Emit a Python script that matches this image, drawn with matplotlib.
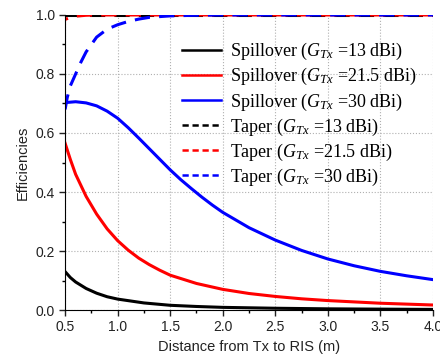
import numpy as np
import matplotlib
matplotlib.use("Agg")
import matplotlib.pyplot as plt
from matplotlib.lines import Line2D
from matplotlib.ticker import MultipleLocator

# spillover efficiencies vs distance from Tx to RIS (m)
d_13 = [0.5, 0.55, 0.6, 0.7, 0.8, 0.9, 1.0, 1.25, 1.5, 1.75, 2.0, 2.5, 3.0, 3.5, 4.0]
spill_13 = [0.13, 0.11, 0.095, 0.073, 0.057, 0.045, 0.037, 0.024, 0.016, 0.012, 0.009,
            0.006, 0.004, 0.003, 0.002]

d_21 = [0.5, 0.55, 0.6, 0.7, 0.8, 0.9, 1.0, 1.1, 1.2, 1.3, 1.4, 1.5, 1.75, 2.0, 2.25,
        2.5, 2.75, 3.0, 3.5, 4.0]
spill_21 = [0.565, 0.51, 0.46, 0.385, 0.325, 0.275, 0.235, 0.203, 0.176, 0.154, 0.135,
            0.118, 0.09, 0.07, 0.056, 0.046, 0.038, 0.032, 0.023, 0.017]

d_30 = [0.5, 0.6, 0.7, 0.8, 0.9, 1.0, 1.1, 1.2, 1.3, 1.4, 1.5, 1.6, 1.7, 1.8, 1.9, 2.0,
        2.25, 2.5, 2.75, 3.0, 3.25, 3.5, 3.75, 4.0]
spill_30 = [0.703, 0.706, 0.702, 0.692, 0.674, 0.65, 0.618, 0.583, 0.547, 0.511, 0.475,
            0.442, 0.412, 0.383, 0.356, 0.331, 0.279, 0.237, 0.202, 0.173, 0.15, 0.131,
            0.116, 0.103]

# taper efficiencies
d_t13 = [0.5, 4.0]
taper_13 = [1.0, 1.0]

d_t21 = [0.5, 0.55, 0.6, 0.7, 0.8, 4.0]
taper_21 = [0.985, 0.992, 0.996, 0.999, 1.0, 1.0]

d_t30 = [0.5, 0.52, 0.55, 0.6, 0.65, 0.7, 0.8, 0.9, 1.0, 1.1, 1.2, 1.3, 1.5, 1.75, 2.0, 4.0]
taper_30 = [0.68, 0.72, 0.76, 0.80, 0.84, 0.875, 0.925, 0.952, 0.967, 0.978, 0.986,
            0.992, 0.997, 0.999, 1.0, 1.0]

labels = [r"Spillover ($G_{Tx}$ =13 dBi)", r"Spillover ($G_{Tx}$ =21.5 dBi)",
          r"Spillover ($G_{Tx}$ =30 dBi)", r"Taper ($G_{Tx}$ =13 dBi)",
          r"Taper ($G_{Tx}$ =21.5 dBi)", r"Taper ($G_{Tx}$ =30 dBi)"]
colors = ["black", "red", "blue"]

plt.rcParams["font.family"] = ["Liberation Sans", "DejaVu Sans"]
plt.rcParams["mathtext.fontset"] = "custom"
plt.rcParams["mathtext.it"] = "Liberation Serif:italic"
plt.rcParams["mathtext.rm"] = "Liberation Serif"

fig = plt.figure(figsize=(4.4, 3.62), dpi=100)
ax = fig.add_axes([0.148, 0.1436, 0.836, 0.815])

lw = 2.2
ax.plot(d_13, spill_13, color="black", lw=lw)
ax.plot(d_21, spill_21, color="red", lw=lw)
ax.plot(d_30, spill_30, color="blue", lw=lw)
ax.plot(d_t13, taper_13, color="black", lw=lw, ls=(0, (5, 3)))
ax.plot(d_t21, taper_21, color="red", lw=lw, ls=(4, (5, 3)))
ax.plot(d_t30, taper_30, color="blue", lw=lw, ls=(0, (5, 3)))

ax.set_xlim(0.5, 4.0)
ax.set_ylim(0.0, 1.0)
ax.xaxis.set_major_locator(MultipleLocator(0.5))
ax.xaxis.set_minor_locator(MultipleLocator(0.25))
ax.yaxis.set_major_locator(MultipleLocator(0.2))
ax.yaxis.set_minor_locator(MultipleLocator(0.1))
ax.grid(True, which="major", color="#b0b0b0", ls=":", lw=0.8)
ax.spines["top"].set_visible(False)
ax.spines["right"].set_visible(False)
ax.tick_params(which="major", direction="out", length=4, width=1, labelsize=10, colors="#222222")
ax.tick_params(which="minor", direction="out", length=2.5, width=1)
ax.set_xlabel("Distance from Tx to RIS (m)", fontsize=10.5, color="#222222")
ax.set_ylabel("Efficiencies", fontsize=10.5, color="#222222")

handles = [Line2D([], [], color=c, lw=1.8) for c in colors]
handles += [Line2D([], [], color=c, lw=1.8, ls=(0, (2.5, 1.5))) for c in colors]
leg = ax.legend(handles, labels, loc="upper right", bbox_to_anchor=(1.0, 0.966),
                frameon=False, prop={"family": "Liberation Serif", "size": 13},
                handlelength=2.2, handletextpad=0.5, labelspacing=0.22)

fig.savefig("out.png", dpi=100)
